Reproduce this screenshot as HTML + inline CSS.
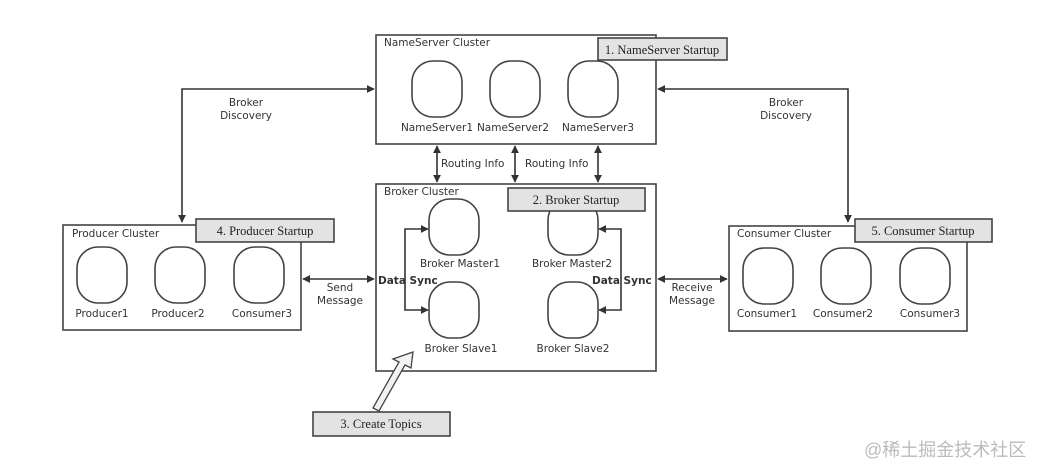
<!DOCTYPE html>
<html><head><meta charset="utf-8"><style>
html,body{margin:0;padding:0;background:#fff;}
svg{display:block;}
text{font-family:"DejaVu Sans","Liberation Sans",sans-serif;font-size:10.5px;fill:#333;}
.s{font-family:"Liberation Serif",serif;font-size:12.5px;fill:#222;}
.b{font-weight:bold;}
</style></head><body>
<svg width="1043" height="475" viewBox="0 0 1043 475" xmlns="http://www.w3.org/2000/svg">
<defs>
<marker id="a" viewBox="0 0 10 10" refX="9" refY="5" markerWidth="8" markerHeight="8" orient="auto-start-reverse" markerUnits="userSpaceOnUse"><path d="M0,0 L10,5 L0,10 z" fill="#333"/></marker>
</defs>
<g fill="none" stroke="#444" stroke-width="1.6">
<rect x="376" y="35" width="280" height="109"/>
<rect x="412" y="61" width="50" height="56" rx="21" ry="21"/>
<rect x="490" y="61" width="50" height="56" rx="21" ry="21"/>
<rect x="568" y="61" width="50" height="56" rx="21" ry="21"/>
<rect x="376" y="184" width="280" height="187"/>
<rect x="429" y="199" width="50" height="56" rx="21" ry="21"/>
<rect x="548" y="199" width="50" height="56" rx="21" ry="21"/>
<rect x="429" y="282" width="50" height="56" rx="21" ry="21"/>
<rect x="548" y="282" width="50" height="56" rx="21" ry="21"/>
<rect x="63" y="225" width="238" height="105"/>
<rect x="77" y="247" width="50" height="56" rx="21" ry="21"/>
<rect x="155" y="247" width="50" height="56" rx="21" ry="21"/>
<rect x="234" y="247" width="50" height="56" rx="21" ry="21"/>
<rect x="729" y="226" width="238" height="105"/>
<rect x="743" y="248" width="50" height="56" rx="21" ry="21"/>
<rect x="821" y="248" width="50" height="56" rx="21" ry="21"/>
<rect x="900" y="248" width="50" height="56" rx="21" ry="21"/>
</g>
<g fill="none" stroke="#333" stroke-width="1.6">
<line x1="437" y1="146" x2="437" y2="182" marker-start="url(#a)" marker-end="url(#a)"/>
<line x1="515" y1="146" x2="515" y2="182" marker-start="url(#a)" marker-end="url(#a)"/>
<line x1="598" y1="146" x2="598" y2="182" marker-start="url(#a)" marker-end="url(#a)"/>
<polyline points="428,229 405,229 405,310 428,310" marker-start="url(#a)" marker-end="url(#a)"/>
<polyline points="599,229 621,229 621,310 599,310" marker-start="url(#a)" marker-end="url(#a)"/>
<line x1="303" y1="279" x2="374" y2="279" marker-start="url(#a)" marker-end="url(#a)"/>
<line x1="658" y1="279" x2="727" y2="279" marker-start="url(#a)" marker-end="url(#a)"/>
<polyline points="374,89 182,89 182,222" marker-start="url(#a)" marker-end="url(#a)"/>
<polyline points="658,89 848,89 848,222" marker-start="url(#a)" marker-end="url(#a)"/>
</g>
<polygon points="413,352 411,368 405,365 379,411 373,408 399,362 393,359" fill="#f2f2f2" stroke="#444" stroke-width="1.3"/>
<g fill="#e3e3e3" stroke="#444" stroke-width="1.6">
<rect x="598" y="38" width="129" height="22"/>
<rect x="508" y="188" width="137" height="23"/>
<rect x="196" y="219" width="138" height="23"/>
<rect x="855" y="219" width="137" height="23"/>
<rect x="313" y="412" width="137" height="24"/>
</g>
<text class="s" x="662" y="54" text-anchor="middle">1. NameServer Startup</text>
<text class="s" x="576" y="204" text-anchor="middle">2. Broker Startup</text>
<text class="s" x="265" y="235" text-anchor="middle">4. Producer Startup</text>
<text class="s" x="923" y="235" text-anchor="middle">5. Consumer Startup</text>
<text class="s" x="381" y="428" text-anchor="middle">3. Create Topics</text>
<text x="384" y="46">NameServer Cluster</text>
<text x="437" y="131" text-anchor="middle">NameServer1</text>
<text x="513" y="131" text-anchor="middle">NameServer2</text>
<text x="598" y="131" text-anchor="middle">NameServer3</text>
<text x="441" y="167">Routing Info</text>
<text x="525" y="167">Routing Info</text>
<text x="384" y="195">Broker Cluster</text>
<text x="460" y="267" text-anchor="middle">Broker Master1</text>
<text x="572" y="267" text-anchor="middle">Broker Master2</text>
<text x="461" y="352" text-anchor="middle">Broker Slave1</text>
<text x="573" y="352" text-anchor="middle">Broker Slave2</text>
<text class="b" x="378" y="284">Data Sync</text>
<text class="b" x="592" y="284">Data Sync</text>
<text x="72" y="237">Producer Cluster</text>
<text x="102" y="317" text-anchor="middle">Producer1</text>
<text x="178" y="317" text-anchor="middle">Producer2</text>
<text x="262" y="317" text-anchor="middle">Consumer3</text>
<text x="737" y="237">Consumer Cluster</text>
<text x="767" y="317" text-anchor="middle">Consumer1</text>
<text x="843" y="317" text-anchor="middle">Consumer2</text>
<text x="930" y="317" text-anchor="middle">Consumer3</text>
<text x="340" y="291" text-anchor="middle">Send</text>
<text x="340" y="304" text-anchor="middle">Message</text>
<text x="692" y="291" text-anchor="middle">Receive</text>
<text x="692" y="304" text-anchor="middle">Message</text>
<text x="246" y="106" text-anchor="middle">Broker</text>
<text x="246" y="119" text-anchor="middle">Discovery</text>
<text x="786" y="106" text-anchor="middle">Broker</text>
<text x="786" y="119" text-anchor="middle">Discovery</text>
<text x="864" y="456" style="font-family:'Liberation Sans','Noto Sans CJK SC',sans-serif;font-size:18px;fill:#bbb;">@稀土掘金技术社区</text>
</svg>
</body></html>
